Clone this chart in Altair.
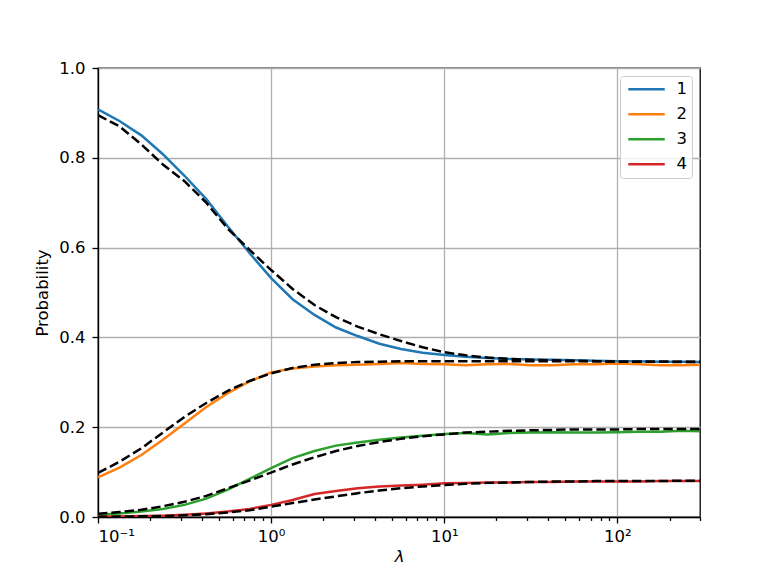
import altair as alt
import pandas as pd

lam = [0.1, 0.133, 0.178, 0.237, 0.316, 0.422, 0.562, 0.75, 1.0, 1.33, 1.78, 2.37,
       3.16, 4.22, 5.62, 7.5, 10, 13.3, 17.8, 23.7, 31.6, 42.2, 56.2, 75, 100, 133,
       178, 237, 300]

sim1 = [0.908, 0.882, 0.850, 0.808, 0.760, 0.708, 0.647, 0.588, 0.532, 0.485, 0.450,
        0.422, 0.403, 0.386, 0.374, 0.366, 0.361, 0.357, 0.354, 0.352, 0.351, 0.350,
        0.349, 0.348, 0.347, 0.347, 0.346, 0.346, 0.345]
dash1 = [0.895, 0.870, 0.830, 0.785, 0.748, 0.700, 0.642, 0.595, 0.550, 0.508, 0.472,
         0.445, 0.424, 0.407, 0.392, 0.378, 0.367, 0.360, 0.355, 0.352, 0.350, 0.349,
         0.348, 0.347, 0.346, 0.346, 0.346, 0.345, 0.345]
sim2 = [0.088, 0.110, 0.138, 0.172, 0.208, 0.245, 0.276, 0.302, 0.322, 0.331, 0.335,
        0.338, 0.339, 0.341, 0.343, 0.341, 0.340, 0.338, 0.340, 0.341, 0.338, 0.338,
        0.340, 0.340, 0.342, 0.340, 0.338, 0.338, 0.339]
dash2 = [0.098, 0.123, 0.153, 0.188, 0.223, 0.254, 0.281, 0.303, 0.320, 0.332, 0.339,
         0.343, 0.345, 0.346, 0.347, 0.347, 0.347, 0.347, 0.347, 0.347, 0.347, 0.347,
         0.347, 0.347, 0.346, 0.346, 0.346, 0.346, 0.346]
sim3 = [0.005, 0.008, 0.012, 0.018, 0.027, 0.041, 0.061, 0.085, 0.109, 0.131, 0.147,
        0.159, 0.166, 0.172, 0.177, 0.181, 0.185, 0.187, 0.184, 0.187, 0.188, 0.189,
        0.188, 0.188, 0.189, 0.190, 0.190, 0.192, 0.191]
dash3 = [0.007, 0.011, 0.016, 0.024, 0.034, 0.047, 0.064, 0.081, 0.099, 0.117, 0.133,
         0.147, 0.158, 0.167, 0.174, 0.180, 0.184, 0.188, 0.190, 0.192, 0.193, 0.194,
         0.195, 0.195, 0.195, 0.196, 0.196, 0.196, 0.196]
sim4 = [0.001, 0.001, 0.002, 0.003, 0.005, 0.008, 0.012, 0.018, 0.027, 0.038, 0.051,
        0.058, 0.064, 0.068, 0.070, 0.072, 0.075, 0.076, 0.077, 0.077, 0.078, 0.078,
        0.079, 0.079, 0.079, 0.079, 0.080, 0.080, 0.080]
dash4 = [0.0005, 0.001, 0.0015, 0.002, 0.004, 0.006, 0.010, 0.015, 0.023, 0.031, 0.039,
         0.046, 0.053, 0.059, 0.064, 0.068, 0.071, 0.074, 0.076, 0.077, 0.078, 0.079,
         0.079, 0.080, 0.080, 0.080, 0.080, 0.081, 0.081]

series_names = ["1", "2", "3", "4"]
colors = ["#1f77b4", "#ff7f0e", "#2ca02c", "#d62728"]

x_ticks = [0.1, 0.2, 0.3, 0.4, 0.5, 0.6, 0.7, 0.8, 0.9,
           1, 2, 3, 4, 5, 6, 7, 8, 9,
           10, 20, 30, 40, 50, 60, 70, 80, 90,
           100, 200, 300]
y_ticks = [0.0, 0.2, 0.4, 0.6, 0.8, 1.0]

rows = []
for name, s, d in zip(series_names, [sim1, sim2, sim3, sim4], [dash1, dash2, dash3, dash4]):
    for i, l in enumerate(lam):
        rows.append({"lam": l, "p": s[i], "series": name, "kind": "sim"})
        rows.append({"lam": l, "p": d[i], "series": name, "kind": "theory"})
df = pd.DataFrame(rows)

MAJOR = "abs(log(datum.value)/LN10 - round(log(datum.value)/LN10)) < 1e-6"
label_expr = ("abs(datum.value-0.1)<1e-9 ? '10⁻¹' : abs(datum.value-1)<1e-9 ? '10⁰' : "
              "abs(datum.value-10)<1e-9 ? '10¹' : abs(datum.value-100)<1e-9 ? '10²' : ''")

FS = 16.5

x_enc = alt.X(
    "lam:Q",
    scale=alt.Scale(type="log", domain=[0.1, 300], nice=False),
    axis=alt.Axis(
        values=x_ticks,
        labelExpr=label_expr,
        tickSize={"condition": {"test": MAJOR, "value": 6}, "value": 3.4},
        gridOpacity={"condition": {"test": MAJOR, "value": 1}, "value": 0},
        labelFontSize=FS,
        labelPadding=5,
        titleFontSize=FS,
        titleFontStyle="italic",
        titleFontWeight="normal",
        titlePadding=4,
    ),
    title="λ",
)
y_enc = alt.Y(
    "p:Q",
    scale=alt.Scale(domain=[0, 1], nice=False),
    axis=alt.Axis(
        values=y_ticks,
        format=".1f",
        tickSize=6,
        labelFontSize=FS,
        labelPadding=7,
        titleFontSize=FS,
        titleFontWeight="normal",
        titlePadding=8,
    ),
    title="Probability",
)

base = alt.Chart(df)

solid = base.transform_filter(alt.datum.kind == "sim").mark_line(
    strokeWidth=2.5, clip=True
).encode(
    x=x_enc,
    y=y_enc,
    color=alt.Color(
        "series:N",
        scale=alt.Scale(domain=series_names, range=colors),
        legend=alt.Legend(
            title=None,
            orient="top-right",
            offset=8,
            symbolType="M-1,0L6.3,0",
            symbolStrokeWidth=2.5,
            symbolSize=100,
            labelFontSize=FS,
            labelOffset=35,
            rowPadding=8,
            padding=5,
            fillColor="rgba(255,255,255,0.8)",
            strokeColor="#cccccc",
            cornerRadius=3,
        ),
    ),
)

dashed = base.transform_filter(alt.datum.kind == "theory").mark_line(
    strokeWidth=2.5, strokeDash=[9.4, 4], color="black", clip=True
).encode(
    x=x_enc,
    y=y_enc,
    detail="series:N",
)

chart = alt.layer(solid, dashed).properties(
    width=602,
    height=449,
    autosize=alt.AutoSizeParams(type="none"),
    padding={"left": 90, "top": 60, "right": 60, "bottom": 50},
).configure(
    font="DejaVu Sans",
).configure_view(
    stroke="black",
    strokeWidth=1.3,
).configure_axis(
    domainColor="black",
    domainWidth=1.3,
    tickColor="black",
    tickWidth=1.3,
    labelColor="black",
    titleColor="black",
    gridColor="#b0b0b0",
    gridWidth=1.3,
    labelFont="DejaVu Sans",
    titleFont="DejaVu Sans",
).configure_legend(
    labelFont="DejaVu Sans",
    labelColor="black",
)

chart.save("out.html", embed_options={"renderer": "svg", "actions": False})
